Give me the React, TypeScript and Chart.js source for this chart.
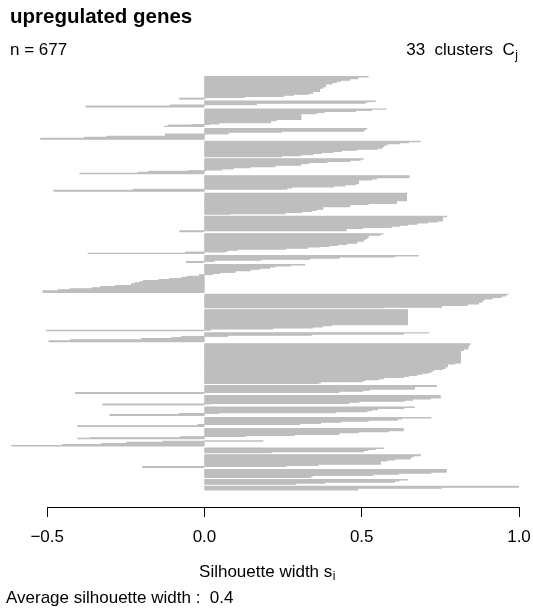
import React, { useEffect, useRef } from "react";
import { Chart, registerables } from "chart.js";

Chart.register(...registerables);

// Silhouette widths per cluster as [value, number of genes] runs,
// sorted from the top of each cluster downwards.
const c01 = [[0.52, 2], [0.487, 3], [0.462, 3], [0.433, 2], [0.419, 2], [0.405, 3], [0.385, 5], [0.376, 3], [0.366, 6], [0.344, 3], [0.331, 2], [0.283, 2], [0.25, 2], [0.126, 2], [0.005, 1], [-0.078, 2]];
const c02 = [[0.543, 1], [0.52, 1], [0.51, 2], [0.165, 3], [-0.108, 2], [-0.376, 2]];
const c03 = [[0.578, 1], [0.53, 2], [0.48, 2], [0.38, 2], [0.355, 2], [0.306, 11], [0.228, 2], [0.21, 4], [0.046, 2], [0.016, 1], [-0.04, 1], [-0.115, 2], [-0.127, 1]];
const c04 = [[0.516, 1], [0.51, 2], [0.505, 2], [0.244, 2], [0.075, 3], [-0.124, 4], [-0.31, 2], [-0.38, 2], [-0.52, 2]];
const c05 = [[0.686, 1], [0.648, 2], [0.62, 2], [0.58, 2], [0.57, 3], [0.565, 3], [0.55, 2], [0.484, 2], [0.435, 2], [0.409, 2], [0.371, 2], [0.344, 2], [0.306, 2], [0.244, 2]];
const c06 = [[0.505, 1], [0.495, 2], [0.462, 2], [0.389, 2], [0.331, 2], [0.306, 3], [0.224, 3], [0.145, 2], [0.091, 2], [0.054, 2], [0.005, 1], [-0.05, 1], [-0.177, 2], [-0.21, 2], [-0.396, 1]];
const c07 = [[0.65, 4], [0.546, 2], [0.53, 2], [0.49, 7], [0.48, 2], [0.446, 2], [0.41, 2], [0.277, 2], [0.262, 2], [-0.226, 2], [-0.478, 2]];
const c08 = [[0.642, 14], [0.61, 5], [0.52, 2], [0.462, 4], [0.376, 5], [0.355, 2], [0.34, 2], [0.309, 2], [0.256, 2], [0.08, 1]];
const c09 = [[0.769, 1], [0.756, 8], [0.739, 2], [0.708, 2], [0.675, 2], [0.645, 2], [0.62, 2], [0.594, 2], [0.503, 2], [0.45, 4], [-0.078, 2]];
const c10 = [[0.567, 1], [0.557, 2], [0.52, 4], [0.516, 2], [0.51, 2], [0.505, 3], [0.484, 4], [0.452, 2], [0.423, 2], [0.396, 2], [0.368, 1], [0.328, 2], [0.258, 2], [0.104, 2], [0.072, 2], [0.065, 1], [-0.06, 2], [-0.37, 1]];
const c11 = [[0.68, 1], [0.605, 2], [0.428, 2], [0.335, 2], [0.18, 2], [0.03, 2], [-0.057, 2]];
const c12 = [[0.319, 1], [0.274, 2], [0.224, 2], [0.207, 2], [0.174, 2], [0.145, 3], [0.097, 3], [0.048, 2], [0.025, 2], [-0.016, 3], [-0.054, 2], [-0.072, 2], [-0.111, 2], [-0.145, 2], [-0.194, 2], [-0.204, 2], [-0.22, 2], [-0.231, 3], [-0.282, 2], [-0.331, 2], [-0.357, 2], [-0.427, 2], [-0.465, 2], [-0.513, 3]];
const c13 = [[0.965, 1], [0.957, 2], [0.943, 3], [0.914, 3], [0.887, 3], [0.882, 3], [0.871, 3], [0.835, 3], [0.753, 3], [0.57, 1]];
const c14 = [[0.645, 28], [0.405, 2], [0.375, 2], [0.344, 2], [0.217, 2], [0.02, 2], [-0.503, 1]];
const c15 = [[0.712, 1], [0.632, 2], [0.339, 2], [0.073, 2], [-0.072, 2], [-0.104, 2], [-0.2, 2], [-0.425, 2], [-0.494, 2]];
const c16 = [[0.844, 2], [0.839, 4], [0.837, 4], [0.823, 3], [0.814, 23], [0.796, 2], [0.772, 5], [0.765, 3], [0.756, 2], [0.728, 3], [0.72, 2], [0.71, 2], [0.69, 2], [0.675, 2], [0.648, 2], [0.632, 2], [0.57, 2], [0.554, 2], [0.51, 2], [0.5, 2], [0.368, 2], [0.361, 1]];
const c17 = [[0.737, 2], [0.667, 5], [0.524, 2], [0.503, 2], [0.427, 2], [-0.41, 2]];
const c18 = [[0.749, 5], [0.718, 2], [0.661, 2], [0.636, 2], [0.491, 2], [0.459, 2], [0.02, 1], [-0.323, 2]];
const c19 = [[0.667, 1], [0.634, 2], [0.55, 2], [0.53, 2], [0.516, 2], [0.416, 2], [0.046, 1], [-0.08, 2], [-0.3, 2]];
const c20 = [[0.72, 1], [0.627, 2], [0.613, 2], [0.52, 2], [0.433, 2], [0.369, 2], [0.303, 2], [-0.02, 2], [-0.403, 2]];
const c21 = [[0.632, 4], [0.584, 2], [0.489, 2], [0.427, 3], [0.285, 2], [0.129, 2], [-0.075, 2], [-0.363, 1], [-0.403, 1]];
const c22 = [[0.186, 1], [-0.132, 2], [-0.247, 2], [-0.326, 2], [-0.45, 2], [-0.613, 1]];
const c23 = [[0.57, 1], [0.543, 2], [0.52, 2], [0.505, 2], [0.212, 2]];
const c24 = [[0.686, 2], [0.665, 2], [0.656, 2], [0.654, 2], [0.605, 2], [0.58, 2], [0.56, 2], [0.559, 4], [0.36, 2], [0.258, 2], [-0.196, 2]];
const c25 = [[0.769, 5], [0.72, 2], [0.616, 2], [0.534, 2], [0.342, 2], [0.335, 2]];
const c26 = [[0.645, 1], [0.618, 2], [0.604, 2], [0.382, 2], [0.29, 2]];
const c27 = [[1.0, 2], [0.753, 2], [0.487, 3]];

const clusters = [c01, c02, c03, c04, c05, c06, c07, c08, c09, c10, c11, c12, c13, c14, c15, c16, c17, c18, c19, c20, c21, c22, c23, c24, c25, c26, c27];

const xTickValues = [-0.5, 0, 0.5, 1.0];
const titleText = "upregulated genes";
const clusterCountText = "33";
const averageWidthText = "0.4";

// styling / layout constants
const BAR_COLOR = "#bebebe";
const CLUSTER_GAP = 3.5;
const FONT = '"Liberation Sans", Arial, Helvetica, sans-serif';
const BAR_TOP = 76;
const BAR_BOTTOM = 490;
const AXIS_Y = 507;

function buildPoints() {
  const pts: { x: number; y: number }[] = [];
  let pos = 0;
  clusters.forEach((cl, ci) => {
    if (ci > 0) pos += CLUSTER_GAP;
    cl.forEach(([v, n]) => {
      for (let k = 0; k < n; k++) {
        pts.push({ x: v, y: pos });
        pos += 1;
      }
    });
  });
  return { pts, span: pos };
}

const fmtTick = (v: number) => (v < 0 ? "\u2212" + Math.abs(v).toFixed(1) : v.toFixed(1));

export default function App() {
  const ref = useRef<HTMLCanvasElement | null>(null);

  useEffect(() => {
    if (!ref.current) return;
    const { pts, span } = buildPoints();
    const n = pts.length;
    const yMax = -0.5 + (span * (AXIS_Y - BAR_TOP)) / (BAR_BOTTOM - BAR_TOP);

    const textPlugin = {
      id: "silText",
      afterDraw(chart: any) {
        const ctx = chart.ctx;
        const xs = chart.scales.x;
        const area = chart.chartArea;
        ctx.save();
        ctx.fillStyle = "#000";
        ctx.textBaseline = "alphabetic";

        // axis line from first to last tick
        const yLine = Math.round(area.bottom) + 0.5;
        ctx.strokeStyle = "#000";
        ctx.lineWidth = 1;
        ctx.beginPath();
        ctx.moveTo(Math.round(xs.getPixelForValue(xTickValues[0])) + 0.5, yLine);
        ctx.lineTo(Math.round(xs.getPixelForValue(xTickValues[xTickValues.length - 1])) + 0.5, yLine);
        ctx.stroke();

        // title
        ctx.font = `bold 20.5px ${FONT}`;
        ctx.textAlign = "left";
        ctx.fillText(titleText, 10, 23);

        // n = ...
        ctx.font = `17px ${FONT}`;
        ctx.fillText(`n = ${n}`, 10, 55);

        // 33  clusters  C_j
        ctx.font = `12px ${FONT}`;
        const jW = ctx.measureText("j").width;
        const rightEdge = 518;
        ctx.textAlign = "right";
        ctx.fillText("j", rightEdge, 59);
        ctx.font = `17px ${FONT}`;
        ctx.fillText(`${clusterCountText}  clusters  C`, rightEdge - jW - 0.5, 55);

        // x label with subscript i
        ctx.textAlign = "left";
        ctx.font = `17px ${FONT}`;
        const main = "Silhouette width s";
        const mW = ctx.measureText(main).width;
        ctx.font = `12px ${FONT}`;
        const iW = ctx.measureText("i").width;
        const cx = (area.left + area.right) / 2 + 2;
        const x0 = cx - (mW + iW) / 2;
        ctx.font = `17px ${FONT}`;
        ctx.fillText(main, x0, 576.5);
        ctx.font = `12px ${FONT}`;
        ctx.fillText("i", x0 + mW + 0.5, 580);

        // average
        ctx.font = `17px ${FONT}`;
        ctx.fillText(`Average silhouette width :  ${averageWidthText}`, 6, 603);
        ctx.restore();
      },
    };

    const chart = new Chart(ref.current, {
      type: "bar",
      data: {
        datasets: [
          {
            data: pts,
            backgroundColor: BAR_COLOR,
            borderWidth: 0,
            barPercentage: 1,
            categoryPercentage: 1,
            inflateAmount: 0.45,
          } as any,
        ],
      },
      options: {
        indexAxis: "y",
        responsive: false,
        animation: false,
        devicePixelRatio: 1,
        layout: { padding: { top: BAR_TOP, left: 11, right: 14, bottom: 57.6 } },
        plugins: { legend: { display: false }, tooltip: { enabled: false }, title: { display: false } },
        scales: {
          y: {
            type: "linear",
            reverse: true,
            offset: false,
            min: -0.5,
            max: yMax,
            display: false,
          },
          x: {
            type: "linear",
            min: -0.615,
            max: 1.0,
            offset: false,
            afterBuildTicks: (scale: any) => {
              scale.ticks = xTickValues.map((v) => ({ value: v }));
            },
            afterFit: (scale: any) => {
              scale.paddingLeft = 0;
              scale.paddingRight = 0;
            },
            grid: { drawOnChartArea: false, drawTicks: true, tickLength: 10, color: "#000", lineWidth: 1 },
            border: { display: false },
            ticks: {
              autoSkip: false,
              maxRotation: 0,
              padding: 10,
              color: "#000",
              font: { family: FONT, size: 17 },
              callback: (v: any) => fmtTick(Number(v)),
            },
          },
        },
      } as any,
      plugins: [textPlugin],
    });
    return () => chart.destroy();
  }, []);

  return (
    <div style={{ position: "fixed", left: 0, top: 0, width: 533, height: 615, background: "#fff" }}>
      <canvas ref={ref} width={533} height={615} style={{ display: "block" }} />
    </div>
  );
}
